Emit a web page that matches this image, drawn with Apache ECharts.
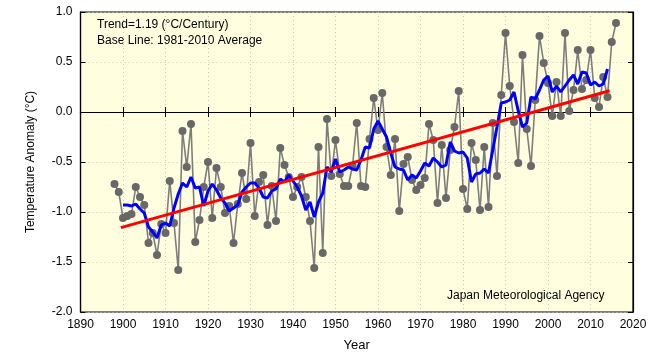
<!DOCTYPE html>
<html>
<head>
<meta charset="utf-8">
<script src="https://cdn.jsdelivr.net/npm/echarts@6/dist/echarts.min.js"></script>
<style>
html,body{margin:0;padding:0;background:#ffffff;}
#chart{width:668px;height:358px;}
</style>
</head>
<body>
<div id="chart"></div>
<script>
// Annual temperature anomalies, Japan (°C, vs 1981-2010 average)
var years = [];
for (var y = 1898; y <= 2016; y++) years.push(y);

var anomalies = [
  -0.72,-0.80,-1.06,-1.04,-1.02,-0.75,-0.85,-0.93,-1.31,-1.21,   // 1898-1907
  -1.43,-1.12,-1.21,-0.69,-1.11,-1.58,-0.19,-0.55,-0.12,-1.30,   // 1908-1917
  -1.08,-0.75,-0.50,-1.06,-0.56,-0.75,-1.01,-0.94,-1.31,-0.92,   // 1918-1927
  -0.61,-0.87,-0.31,-1.04,-0.70,-0.63,-1.13,-0.74,-1.09,-0.36,   // 1928-1937
  -0.53,-0.65,-0.85,-0.75,-0.65,-0.85,-1.09,-1.56,-0.35,-1.41,   // 1938-1947
  -0.07,-0.64,-0.28,-0.62,-0.74,-0.74,-0.54,-0.11,-0.74,-0.75,   // 1948-1957
  -0.27, 0.14,-0.18, 0.19,-0.35,-0.63,-0.27,-0.99,-0.52,-0.45,   // 1958-1967
  -0.68,-0.78,-0.73,-0.66,-0.12,-0.28,-0.91,-0.33,-0.86,-0.38,   // 1968-1977
  -0.15, 0.21,-0.77,-0.97,-0.31,-0.48,-0.98,-0.35,-0.95,-0.11,   // 1978-1987
  -0.64, 0.17, 0.79, 0.26,-0.10,-0.51, 0.57,-0.17,-0.54, 0.12,   // 1988-1997
   0.76, 0.49, 0.29,-0.04, 0.30,-0.04, 0.79, 0.01, 0.22, 0.62,   // 1998-2007
   0.23, 0.32, 0.62, 0.14, 0.05, 0.35, 0.15, 0.70, 0.89          // 2008-2016
];

// 5-year running mean (blue), 1900-2014
var meanYears = [];
for (var m = 1900; m <= 2014; m++) meanYears.push(m);
var runMean5 = [
  -0.93,-0.93,-0.94,-0.92,-0.97,-1.01,-1.15,-1.20,-1.26,-1.13,   // 1900-1909
  -1.11,-1.14,-0.96,-0.82,-0.71,-0.75,-0.65,-0.76,-0.75,-0.94,   // 1910-1919
  -0.79,-0.72,-0.78,-0.86,-0.91,-0.99,-0.96,-0.93,-0.80,-0.75,   // 1920-1929
  -0.71,-0.71,-0.76,-0.85,-0.86,-0.79,-0.77,-0.67,-0.70,-0.63,   // 1930-1939
  -0.69,-0.75,-0.84,-0.98,-0.90,-1.05,-0.90,-0.81,-0.55,-0.60,   // 1940-1949
  -0.47,-0.60,-0.58,-0.55,-0.57,-0.58,-0.48,-0.35,-0.36,-0.17,   // 1950-1959
  -0.09,-0.17,-0.25,-0.41,-0.55,-0.57,-0.58,-0.68,-0.63,-0.66,   // 1960-1969
  -0.59,-0.51,-0.54,-0.46,-0.50,-0.55,-0.53,-0.30,-0.39,-0.41,   // 1970-1979
  -0.40,-0.46,-0.70,-0.62,-0.61,-0.57,-0.61,-0.38,-0.15, 0.09,   // 1980-1989
   0.10, 0.12, 0.20, 0.01,-0.15,-0.11, 0.15, 0.13, 0.22, 0.32,   // 1990-1999
   0.36, 0.20, 0.26, 0.20, 0.26, 0.32, 0.37, 0.28, 0.40, 0.39,   // 2000-2009
   0.27, 0.30, 0.26, 0.28, 0.43                                  // 2010-2014
];

// Linear trend (red), 1.19 °C/century
var trendYears = [1899.5, 2014.5];
var trendValues = [-1.156, 0.213];

var xTicks = [1890, 2020, 10];
var yTicks = [-2.0, 1.0, 0.5];

function pairs(xs, vs) { return xs.map(function (x, i) { return [x, vs[i]]; }); }

var FONT = '"Liberation Sans", Arial, Helvetica, sans-serif';
var chart = echarts.init(document.getElementById('chart'), null, {renderer: 'canvas'});

var tickInside = {show: true, inside: true, length: 5, lineStyle: {color: '#000', width: 1}};

chart.setOption({
  backgroundColor: '#ffffff',
  animation: false,
  grid: {
    left: 80.5, right: 35, top: 12, bottom: 46,
    show: true, backgroundColor: '#ffffe0', borderColor: '#000', borderWidth: 1.2,
    containLabel: false
  },
  xAxis: [{
    type: 'value', min: xTicks[0], max: xTicks[1], interval: xTicks[2],
    name: 'Year', nameLocation: 'middle', nameGap: 27,
    nameTextStyle: {fontFamily: FONT, fontSize: 13, color: '#000'},
    axisLine: {show: true, lineStyle: {color: '#000', width: 1.2}},
    axisTick: tickInside,
    axisLabel: {fontFamily: FONT, fontSize: 12, color: '#000', margin: 7,
      formatter: function (v) { return String(v); }},
    splitLine: {show: true, lineStyle: {color: '#c8c8b4', type: [1, 3], width: 1}}
  }, {
    type: 'value', position: 'top', min: xTicks[0], max: xTicks[1], interval: xTicks[2],
    axisLine: {show: true, lineStyle: {color: '#000', width: 1.2}},
    axisTick: tickInside, axisLabel: {show: false}, splitLine: {show: false}
  }],
  yAxis: [{
    type: 'value', min: yTicks[0], max: yTicks[1], interval: yTicks[2],
    name: 'Temperature Anomaly (°C)', nameLocation: 'middle', nameGap: 44, nameRotate: 90,
    nameTextStyle: {fontFamily: FONT, fontSize: 12, color: '#000'},
    axisLine: {show: true, lineStyle: {color: '#000', width: 1.2}},
    axisTick: tickInside,
    axisLabel: {fontFamily: FONT, fontSize: 12, color: '#000', margin: 8,
      formatter: function (v) { return v.toFixed(1); }},
    splitLine: {show: true, lineStyle: {color: '#c8c8b4', type: [1, 3], width: 1}}
  }, {
    type: 'value', position: 'right', min: yTicks[0], max: yTicks[1], interval: yTicks[2],
    axisLine: {show: true, lineStyle: {color: '#000', width: 1.2}},
    axisTick: tickInside, axisLabel: {show: false}, splitLine: {show: false}
  }],
  series: [{
    name: 'Annual', type: 'line', data: pairs(years, anomalies),
    symbol: 'circle', symbolSize: 8, showSymbol: true,
    itemStyle: {color: '#686868'},
    lineStyle: {color: '#7d7d7d', width: 1.6},
    z: 2
  }, {
    name: '5-year mean', type: 'line', data: pairs(meanYears, runMean5),
    showSymbol: false, symbol: 'none',
    lineStyle: {color: '#0000ff', width: 3},
    z: 3
  }, {
    name: 'Trend', type: 'line', data: pairs(trendYears, trendValues),
    showSymbol: false, symbol: 'none',
    lineStyle: {color: '#ff0000', width: 3},
    z: 4
  }],
  graphic: [{
    type: 'text', left: 97, top: 19,
    style: {text: 'Trend=1.19 (°C/Century)', font: '12px ' + FONT, fill: '#000'}
  }, {
    type: 'text', left: 97, top: 35,
    style: {text: 'Base Line: 1981-2010 Average', font: '12px ' + FONT, fill: '#000'}
  }, {
    type: 'text', left: 447, top: 290,
    style: {text: 'Japan Meteorological Agency', font: '12px ' + FONT, fill: '#000'}
  }]
});
</script>
</body>
</html>
